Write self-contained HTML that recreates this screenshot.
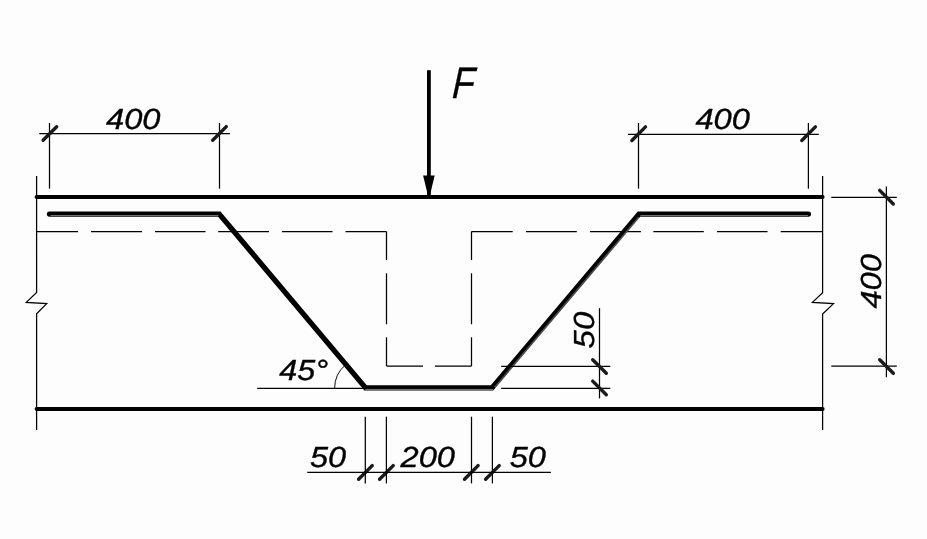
<!DOCTYPE html>
<html>
<head>
<meta charset="utf-8">
<title>Punching shear test - bent-up bar</title>
<style>
html,body{margin:0;padding:0;background:#fdfdfd;}
body{width:927px;height:539px;overflow:hidden;font-family:"Liberation Sans",sans-serif;}
svg{display:block;position:absolute;left:0;top:0;opacity:0.999;will-change:transform;}
text{font-family:"Liberation Sans",sans-serif;font-style:italic;fill:#000;stroke:#000;stroke-width:0.35;text-rendering:geometricPrecision;}
.thin{stroke:#000;stroke-width:1.25;fill:none;}
.thick{stroke:#000;stroke-width:4;fill:none;stroke-linecap:round;}
.bar{stroke:#000;stroke-width:5.3;fill:none;stroke-linecap:round;stroke-linejoin:miter;}
.tick{stroke:#1a1a1a;stroke-width:3.4;fill:none;stroke-linecap:round;}
</style>
</head>
<body>
<svg width="927" height="539" viewBox="0 0 927 539">
<rect x="0" y="0" width="927" height="539" fill="#fdfdfd"/>

<!-- slab outline: side walls with break marks -->
<path class="thin" d="M36.6 176 V292.5 L26.3 302.4 L46.7 303.6 L36.6 313.8 V430"/>
<path class="thin" d="M822.6 176 V292.8 L812.4 302.4 L833.5 303.6 L822.6 314.1 V430"/>

<!-- top and bottom slab faces -->
<path class="thick" d="M36.6 197 H822.6"/>
<path class="thick" d="M36.6 409 H822.6"/>

<!-- dashed column outline -->
<g class="thin">
<path d="M36.6 231.5 H78 M91 231.5 H142 M155 231.5 H205.5 M218.2 231.5 H269 M282 231.5 H332.5 M345.5 231.5 H386.5"/>
<path d="M386.5 231.5 V260 M386.5 273.3 V324.2 M386.5 337.3 V366"/>
<path d="M386.5 366 H423 M435 366 H471.5"/>
<path d="M471.5 366 V337.3 M471.5 324.2 V273.3 M471.5 260 V231.5"/>
<path d="M471.5 231.5 H512.7 M526 231.5 H576.8 M590 231.5 H640.9 M653.4 231.5 H703.8 M717 231.5 H767.5 M780.7 231.5 H822.6"/>
</g>

<!-- bent-up bar -->
<path class="bar" d="M49.5 214.1 H219.3 L365.6 387.9 H492 L639 214.1 H808.4"/>
<path d="M50.5 215.55 L218.4 215.55" stroke="#fff" stroke-opacity="0.6" stroke-width="0.8" fill="none"/>
<path d="M365.3 389.45 L493.3 389.45" stroke="#fff" stroke-opacity="0.6" stroke-width="0.8" fill="none"/>
<path d="M640.4 215.55 L808 215.55" stroke="#fff" stroke-opacity="0.6" stroke-width="0.8" fill="none"/>
<path d="M495.0 387.36 L639 217.16" stroke="#fff" stroke-opacity="0.28" stroke-width="1.5" fill="none"/>
<path d="M494.4 386.87 L638.4 216.67" stroke="#fff" stroke-opacity="0.35" stroke-width="0.4" fill="none"/>

<!-- load arrow -->
<path d="M428.9 70.2 V196" stroke="#000" stroke-width="3.8" fill="none" stroke-linecap="butt"/>
<path d="M423.1 175.6 L434.7 175.6 L429.6 196.5 L428.2 196.5 Z" fill="#000"/>
<text x="0" y="0" font-size="44" transform="translate(451.8 97.9) skewX(-3) scale(0.83 1)">F</text>

<!-- top-left 400 dimension -->
<g class="thin">
<path d="M39.3 133.5 H229.9"/>
<path d="M49.5 123 V188.7"/>
<path d="M219.5 123 V188.7"/>
</g>
<text x="0" y="0" font-size="29" transform="translate(106 128.5) scale(1.125 1)">400</text>

<!-- top-right 400 dimension -->
<g class="thin">
<path d="M628 134.3 H818.8"/>
<path d="M638.5 123 V188.7"/>
<path d="M808.4 123 V188.7"/>
</g>
<text x="0" y="0" font-size="29" transform="translate(695.4 128.5) scale(1.125 1)">400</text>

<!-- right vertical 400 dimension -->
<g class="thin">
<path d="M886.4 186.5 V377.2"/>
<path d="M831.3 197.4 H896.8"/>
<path d="M831.3 366.2 H896.8"/>
</g>
<text x="0" y="0" font-size="29" transform="translate(880.9 308.6) rotate(-90) scale(1.125 1)">400</text>

<!-- 50 vertical dimension -->
<g class="thin">
<path d="M599.5 308.2 V398.4"/>
<path d="M501.2 366.4 H610.3"/>
<path d="M501.2 388.4 H610.3"/>
</g>
<text x="0" y="0" font-size="29" transform="translate(594.2 348.4) rotate(-90) scale(1.135 1)">50</text>

<!-- dimension ticks -->
<path class="tick" d="M43.1 140.3 L56.7 126.7"/>
<path class="tick" d="M212.7 140.2 L226.3 126.6"/>
<path class="tick" d="M631.9 140.5 L645.5 126.9"/>
<path class="tick" d="M801.8 140.5 L815.4 126.9"/>
<path class="tick" d="M879.7 190.4 L893.3 204.0"/>
<path class="tick" d="M879.7 359.7 L893.3 373.3"/>
<path class="tick" d="M592.7 359.7 L606.3 373.3"/>
<path class="tick" d="M592.7 381.1 L606.3 394.7"/>
<path class="tick" d="M358.6 479.2 L372.2 465.6"/>
<path class="tick" d="M379.6 479.2 L393.2 465.6"/>
<path class="tick" d="M464.5 479.2 L478.1 465.6"/>
<path class="tick" d="M485.6 479.2 L499.2 465.6"/>

<!-- 45 degree angle -->
<path class="thin" d="M257.2 388.4 H366"/>
<path d="M334.6 388.4 A31 31 0 0 1 345.6 364.7" stroke="#000" stroke-width="0.95" fill="none"/>
<text x="0" y="0" font-size="29" transform="translate(279.3 379.7) scale(1.115 1)">45°</text>

<!-- bottom dimensions 50 / 200 / 50 -->
<g class="thin">
<path d="M307.3 472.4 H550.9"/>
<path d="M365.3 416.7 V483.4"/>
<path d="M386.4 416.7 V483.4"/>
<path d="M471.5 416.7 V483.4"/>
<path d="M492.4 416.7 V483.4"/>
</g>
<text x="0" y="0" font-size="29" transform="translate(310 467.3) scale(1.12 1)">50</text>
<text x="0" y="0" font-size="29" transform="translate(400.5 467.3) scale(1.125 1)">200</text>
<text x="0" y="0" font-size="29" transform="translate(509.8 467.3) scale(1.12 1)">50</text>
</svg>
</body>
</html>
